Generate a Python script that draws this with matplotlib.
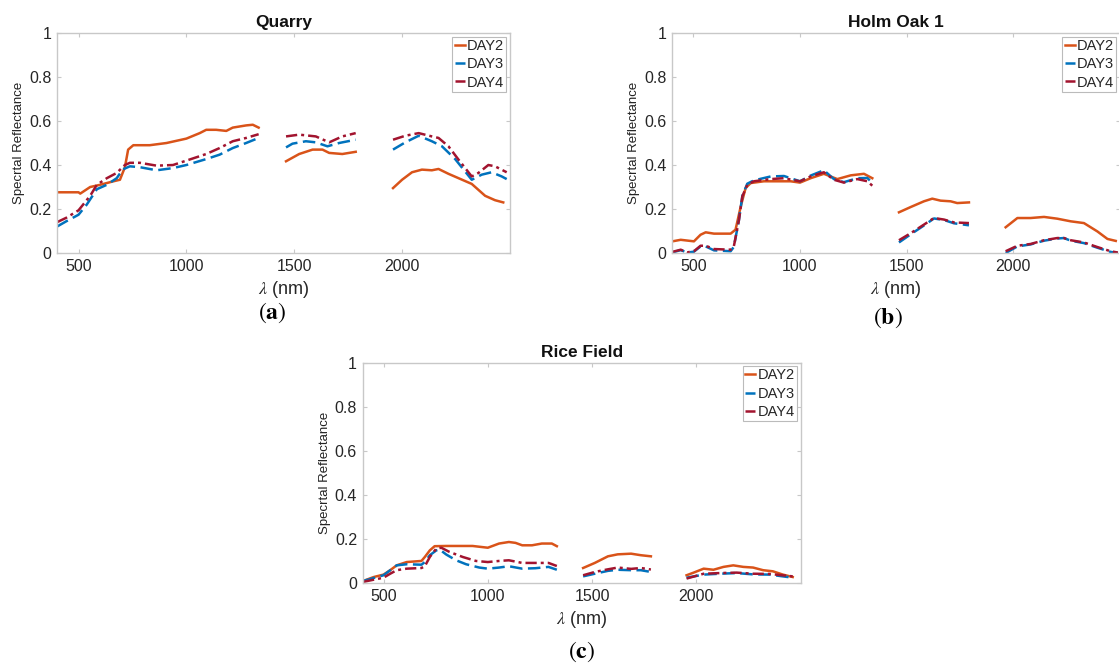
import numpy as np
import matplotlib
matplotlib.use("Agg")
import matplotlib.pyplot as plt

plt.rcParams['font.family'] = ['Liberation Sans', 'DejaVu Sans']
plt.rcParams['mathtext.fontset'] = 'stix'

nan = np.nan
titles = ["Quarry", "Holm Oak 1", "Rice Field"]
panel_labels = ["a", "b", "c"]
series_names = ["DAY2", "DAY3", "DAY4"]

# ---- Quarry ----
q_day2_wl = [400, 500, 508, 554, 600, 662, 692, 715, 730, 754, 830, 908, 1000, 1062, 1092, 1138, 1185, 1215, 1277, 1308, 1335,
             nan, 1462, 1523, 1585, 1631, 1662, 1723, 1785,
             nan, 1958, 2000, 2046, 2092, 2138, 2169, 2215, 2262, 2323, 2385, 2431, 2469]
q_day2 = [0.276, 0.276, 0.270, 0.300, 0.310, 0.326, 0.333, 0.390, 0.470, 0.490, 0.490, 0.500, 0.520, 0.545, 0.560, 0.560, 0.555, 0.570, 0.580, 0.583, 0.570,
          nan, 0.417, 0.450, 0.470, 0.470, 0.455, 0.450, 0.460,
          nan, 0.295, 0.333, 0.367, 0.379, 0.376, 0.382, 0.360, 0.340, 0.314, 0.260, 0.240, 0.230]
q_day3_wl = [400, 443, 500, 538, 585, 631, 677, 705, 738, 785, 862, 938, 1000, 1092, 1154, 1215, 1277, 1335,
             nan, 1462, 1492, 1554, 1600, 1654, 1708, 1785,
             nan, 1958, 2015, 2077, 2138, 2185, 2246, 2323, 2369, 2415, 2462, 2485]
q_day3 = [0.120, 0.144, 0.174, 0.220, 0.290, 0.310, 0.340, 0.380, 0.394, 0.390, 0.376, 0.386, 0.400, 0.427, 0.447, 0.477, 0.500, 0.523,
          nan, 0.480, 0.497, 0.508, 0.503, 0.485, 0.500, 0.515,
          nan, 0.470, 0.503, 0.533, 0.508, 0.485, 0.427, 0.333, 0.356, 0.367, 0.348, 0.336]
q_day4_wl = [400, 443, 500, 554, 585, 631, 677, 715, 738, 785, 862, 938, 1000, 1092, 1154, 1215, 1277, 1335,
             nan, 1462, 1523, 1600, 1662, 1723, 1785,
             nan, 1958, 2015, 2077, 2138, 2169, 2215, 2262, 2323, 2354, 2400, 2431, 2485]
q_day4 = [0.140, 0.160, 0.194, 0.260, 0.310, 0.340, 0.364, 0.400, 0.410, 0.410, 0.397, 0.400, 0.420, 0.450, 0.477, 0.508, 0.523, 0.540,
          nan, 0.530, 0.538, 0.530, 0.503, 0.530, 0.545,
          nan, 0.515, 0.533, 0.545, 0.530, 0.523, 0.485, 0.424, 0.348, 0.364, 0.400, 0.394, 0.367]

# ---- Holm Oak 1 ----
h_day2_wl = [402, 441, 503, 534, 558, 597, 675, 698, 722, 745, 769, 831, 956, 1000, 1050, 1112, 1175, 1238, 1300, 1339,
             nan, 1464, 1519, 1581, 1620, 1659, 1706, 1737, 1792,
             nan, 1964, 2019, 2081, 2144, 2206, 2269, 2331, 2394, 2441, 2480]
h_day2 = [0.053, 0.060, 0.053, 0.083, 0.094, 0.088, 0.088, 0.106, 0.210, 0.295, 0.318, 0.326, 0.326, 0.320, 0.340, 0.360, 0.336, 0.353, 0.360, 0.340,
          nan, 0.185, 0.209, 0.235, 0.247, 0.238, 0.235, 0.227, 0.230,
          nan, 0.117, 0.159, 0.159, 0.164, 0.156, 0.144, 0.136, 0.098, 0.064, 0.055]
h_day3_wl = [402, 441, 472, 503, 534, 558, 597, 675, 690, 714, 730, 753, 784, 863, 925, 1000, 1050, 1112, 1159, 1206, 1269, 1316, 1339,
             nan, 1464, 1519, 1581, 1628, 1675, 1722, 1792,
             nan, 1964, 2019, 2081, 2144, 2206, 2237, 2269, 2331, 2394, 2456, 2490]
h_day3 = [0.003, 0.013, 0.002, 0.006, 0.030, 0.030, 0.012, 0.008, 0.028, 0.150, 0.260, 0.315, 0.330, 0.348, 0.350, 0.326, 0.352, 0.376, 0.336, 0.322, 0.340, 0.341, 0.318,
          nan, 0.048, 0.085, 0.125, 0.157, 0.150, 0.135, 0.126,
          nan, 0.000, 0.030, 0.039, 0.056, 0.066, 0.068, 0.056, 0.045, 0.024, 0.005, 0.000]
h_day4_wl = [402, 441, 472, 503, 534, 558, 597, 675, 690, 714, 730, 753, 784, 863, 925, 1000, 1050, 1112, 1159, 1206, 1269, 1316, 1339,
             nan, 1464, 1519, 1581, 1628, 1675, 1722, 1792,
             nan, 1964, 2019, 2081, 2144, 2206, 2237, 2269, 2331, 2394, 2456, 2490]
h_day4 = [0.005, 0.015, 0.003, 0.008, 0.033, 0.033, 0.018, 0.015, 0.030, 0.150, 0.258, 0.310, 0.326, 0.336, 0.340, 0.326, 0.348, 0.367, 0.333, 0.320, 0.336, 0.326, 0.306,
          nan, 0.058, 0.090, 0.129, 0.159, 0.152, 0.139, 0.136,
          nan, 0.008, 0.033, 0.041, 0.058, 0.068, 0.068, 0.058, 0.048, 0.027, 0.008, 0.002]

# ---- Rice Field ----
r_day2_wl = [402, 453, 500, 532, 563, 611, 682, 698, 722, 745, 801, 927, 1000, 1054, 1101, 1133, 1165, 1212, 1259, 1307, 1331,
             nan, 1457, 1513, 1576, 1623, 1687, 1734, 1782,
             nan, 1953, 1987, 2035, 2082, 2130, 2177, 2225, 2272, 2320, 2367, 2415, 2462]
r_day2 = [0.009, 0.027, 0.038, 0.058, 0.080, 0.095, 0.100, 0.118, 0.148, 0.167, 0.168, 0.168, 0.160, 0.179, 0.186, 0.182, 0.171, 0.171, 0.179, 0.179, 0.167,
          nan, 0.068, 0.091, 0.121, 0.130, 0.133, 0.126, 0.121,
          nan, 0.035, 0.047, 0.065, 0.060, 0.073, 0.080, 0.073, 0.070, 0.058, 0.053, 0.038, 0.027]
r_day3_wl = [402, 500, 563, 611, 682, 698, 722, 753, 769, 801, 848, 896, 959, 1000, 1054, 1101, 1165, 1228, 1291, 1331,
             nan, 1457, 1513, 1576, 1623, 1687, 1734, 1782,
             nan, 1953, 2035, 2114, 2193, 2272, 2351, 2462]
r_day3 = [0.009, 0.035, 0.080, 0.085, 0.083, 0.095, 0.126, 0.148, 0.152, 0.129, 0.103, 0.085, 0.070, 0.065, 0.070, 0.076, 0.065, 0.067, 0.073, 0.060,
          nan, 0.030, 0.042, 0.055, 0.060, 0.058, 0.058, 0.050,
          nan, 0.024, 0.038, 0.042, 0.045, 0.039, 0.038, 0.024]
r_day4_wl = [402, 500, 532, 563, 611, 682, 698, 722, 753, 777, 816, 880, 943, 1000, 1054, 1101, 1165, 1228, 1291, 1331,
             nan, 1457, 1513, 1576, 1623, 1687, 1734, 1782,
             nan, 1953, 2035, 2114, 2193, 2272, 2351, 2462]
r_day4 = [0.005, 0.024, 0.042, 0.058, 0.065, 0.068, 0.076, 0.118, 0.156, 0.160, 0.141, 0.118, 0.100, 0.095, 0.100, 0.103, 0.091, 0.091, 0.091, 0.077,
          nan, 0.035, 0.050, 0.062, 0.070, 0.064, 0.068, 0.061,
          nan, 0.020, 0.042, 0.045, 0.047, 0.042, 0.041, 0.030]

panels = [
    [(q_day2_wl, q_day2), (q_day3_wl, q_day3), (q_day4_wl, q_day4)],
    [(h_day2_wl, h_day2), (h_day3_wl, h_day3), (h_day4_wl, h_day4)],
    [(r_day2_wl, r_day2), (r_day3_wl, r_day3), (r_day4_wl, r_day4)],
]

colors = ["#D95319", "#0072BD", "#A2142F"]
styles = ["-", (0, (5, 2.2)), (0, (4.5, 1.6, 1.2, 1.6))]

fig = plt.figure(figsize=(11.19, 6.63), dpi=100)
positions = [
    [0.0509, 0.6184, 0.4048, 0.3318],
    [0.6005, 0.6184, 0.4004, 0.3318],
    [0.3241, 0.1207, 0.3914, 0.3323],
]
label_pos = [(0.243, 0.528), (0.7936, 0.520), (0.520, 0.0166)]

spine_col = "#c8c8c8"
text_col = "#262626"
for i in range(3):
    ax = fig.add_axes(positions[i])
    for j in range(3):
        wl, val = panels[i][j]
        ax.plot(wl, val, color=colors[j], linestyle=styles[j], lw=1.8, label=series_names[j])
    ax.set_xlim(400, 2500)
    ax.set_ylim(0, 1)
    ax.set_xticks([500, 1000, 1500, 2000])
    ax.set_yticks([0, 0.2, 0.4, 0.6, 0.8, 1.0])
    ax.set_yticklabels(["0", "0.2", "0.4", "0.6", "0.8", "1"])
    ax.tick_params(direction="in", length=3, width=0.8, color=spine_col, labelcolor=text_col,
                   labelsize=11.5, top=True, right=True, pad=4)
    for s in ax.spines.values():
        s.set_color(spine_col)
        s.set_linewidth(1.0)
    ax.set_title(titles[i], fontsize=12.5, fontweight="bold", color="#111111", pad=4)
    ax.set_xlabel(r"$\lambda$ (nm)", fontsize=13, color=text_col, labelpad=4)
    ax.set_ylabel("Specrtal Reflectance", fontsize=9.5, color="#222222", labelpad=3)
    leg = ax.legend(loc="upper right", fontsize=10.5, handlelength=0.7, handletextpad=0.15,
                    borderpad=0.15, labelspacing=0.3, borderaxespad=0.25, fancybox=False,
                    framealpha=1)
    leg.get_frame().set_edgecolor("#bbbbbb")
    leg.get_frame().set_linewidth(0.8)
    for t in leg.get_texts():
        t.set_color(text_col)
    fig.text(label_pos[i][0], label_pos[i][1], r"$(\mathbf{" + panel_labels[i] + r"})$",
             fontsize=17, ha="center", va="center", color="black")

fig.savefig("out.png", dpi=100)
